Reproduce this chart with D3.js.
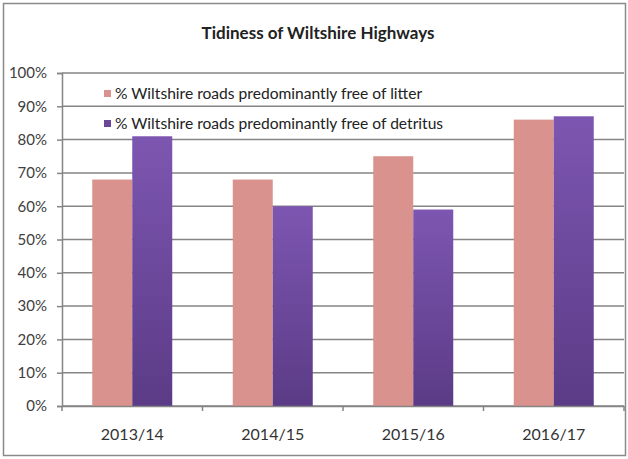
<!DOCTYPE html>
<html>
<head>
<meta charset="utf-8">
<script src="https://cdn.jsdelivr.net/npm/d3@7"></script>
<style>
  body { margin: 0; background: #fff; }
  text { font-family: Lato, "Open Sans", sans-serif; }
</style>
</head>
<body>
<div id="chart"></div>
<script>
var years = ["2013/14", "2014/15", "2015/16", "2016/17"];
var litter = [68, 68, 75, 86];
var detritus = [81, 60, 59, 87];
var seriesNames = ["% Wiltshire roads predominantly free of litter",
                   "% Wiltshire roads predominantly free of detritus"];
var yTicks = [0, 10, 20, 30, 40, 50, 60, 70, 80, 90, 100];

(function() {
  var width = 628, height = 459;
  var left = 62, right = 624, top = 73, bottom = 406;

  var svg = d3.select("#chart").append("svg")
              .attr("width", width)
              .attr("height", height);

  // gradient for the purple bars
  var grad = svg.append("defs").append("linearGradient")
                .attr("id", "purp").attr("x1", 0).attr("y1", 0).attr("x2", 0).attr("y2", 1);
  grad.append("stop").attr("offset", "0%").attr("stop-color", "#7d56b1");
  grad.append("stop").attr("offset", "100%").attr("stop-color", "#5b3b86");

  // outer frame
  svg.append("rect")
     .attr("x", 3.5).attr("y", 3.5)
     .attr("width", 622).attr("height", 452)
     .attr("fill", "#fff").attr("stroke", "#8a8a8a").attr("stroke-width", 1.5);

  var x = d3.scaleBand().domain(years).range([left, right]).paddingInner(0).paddingOuter(0);
  var y = d3.scaleLinear().domain([0, 100]).range([bottom, top]);

  // gridlines
  svg.append("g").selectAll("line")
     .data(yTicks)
     .enter().append("line")
     .attr("x1", left).attr("x2", right)
     .attr("y1", function(d){ return y(d); })
     .attr("y2", function(d){ return y(d); })
     .attr("stroke", "#858585").attr("stroke-width", 1.5);

  // y axis
  var yAxis = svg.append("g")
     .attr("transform", "translate(" + left + ",0)")
     .call(d3.axisLeft(y).tickValues(yTicks).tickSize(5).tickPadding(10)
             .tickFormat(function(d){ return d + "%"; }));
  yAxis.select(".domain").attr("stroke", "#858585").attr("stroke-width", 1.5);
  yAxis.selectAll(".tick line").attr("stroke", "#858585").attr("stroke-width", 1.5);
  yAxis.selectAll("text").attr("font-size", 15).attr("fill", "#404040")
       .attr("font-family", "Lato, sans-serif");

  // bars
  var barW = 40;
  var groups = svg.append("g").selectAll("g")
     .data(years)
     .enter().append("g");

  groups.append("rect")
     .attr("x", function(d){ return x(d) + x.bandwidth()/2 - barW; })
     .attr("y", function(d, i){ return y(litter[i]); })
     .attr("width", barW)
     .attr("height", function(d, i){ return y(0) - y(litter[i]); })
     .attr("fill", "#d9928d");

  groups.append("rect")
     .attr("x", function(d){ return x(d) + x.bandwidth()/2; })
     .attr("y", function(d, i){ return y(detritus[i]); })
     .attr("width", barW)
     .attr("height", function(d, i){ return y(0) - y(detritus[i]); })
     .attr("fill", "url(#purp)");

  // x axis
  var xAxis = svg.append("g")
     .attr("transform", "translate(0," + bottom + ")")
     .call(d3.axisBottom(x).tickSize(0).tickPadding(23));
  xAxis.select(".domain").attr("stroke", "#858585").attr("stroke-width", 1.5);
  xAxis.selectAll("text").attr("font-size", 16).attr("fill", "#333")
       .attr("font-family", "Lato, sans-serif");

  // tick marks on category boundaries
  var bounds = years.map(function(d){ return x(d); }).concat([right]);
  svg.append("g").selectAll("line")
     .data(bounds)
     .enter().append("line")
     .attr("x1", function(d){ return d; }).attr("x2", function(d){ return d; })
     .attr("y1", bottom).attr("y2", bottom + 5)
     .attr("stroke", "#858585").attr("stroke-width", 1.5);

  // title
  svg.append("text")
     .attr("x", 318).attr("y", 39)
     .attr("text-anchor", "middle")
     .attr("font-size", 17).attr("font-weight", "bold").attr("fill", "#222")
     .text("Tidiness of Wiltshire Highways");

  // legend
  var colors = ["#d9928d", "#6a479b"];
  var legend = svg.append("g").selectAll("g")
     .data(seriesNames)
     .enter().append("g")
     .attr("transform", function(d, i){ return "translate(104," + (90 + i * 30) + ")"; });
  legend.append("rect")
     .attr("width", 7).attr("height", 7)
     .attr("fill", function(d, i){ return colors[i]; });
  legend.append("text")
     .attr("x", 11).attr("y", 9)
     .attr("font-size", 15.6).attr("fill", "#222")
     .text(function(d){ return d; });
})();
</script>
</body>
</html>
